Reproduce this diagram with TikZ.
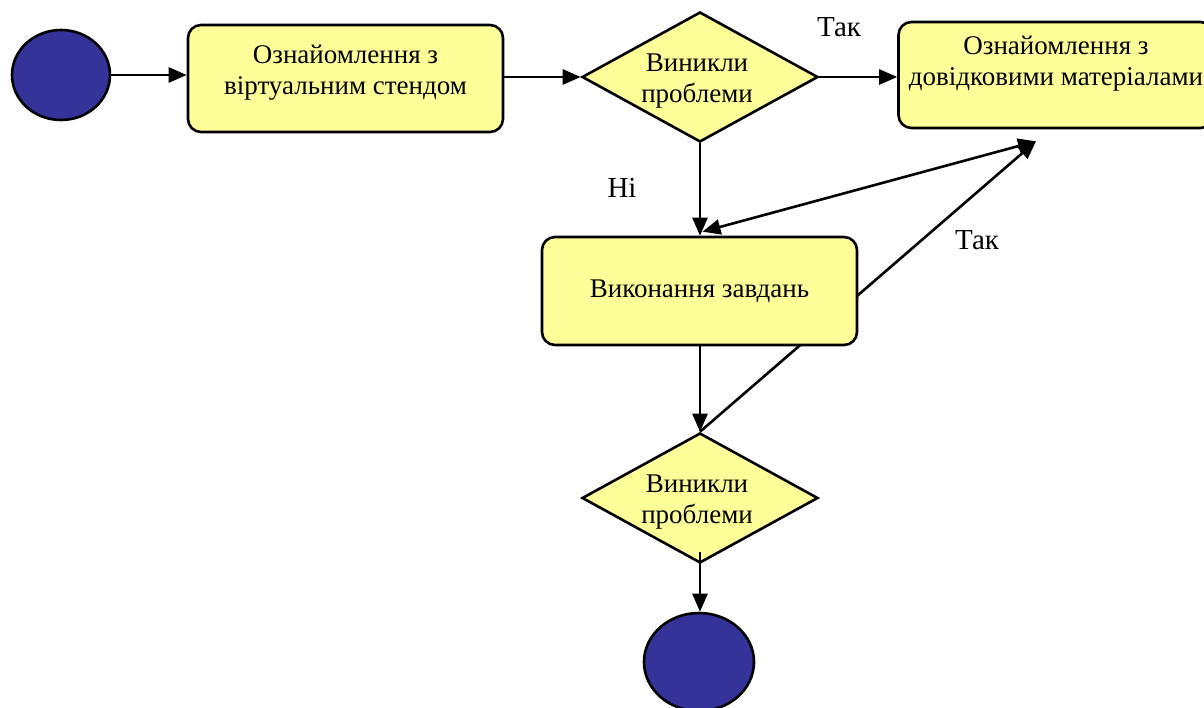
\documentclass[tikz,border=0pt]{standalone}
\usepackage{fontspec}
\setmainfont{Liberation Serif}
\usetikzlibrary{shapes.geometric,arrows.meta,calc,backgrounds}
\definecolor{boxyellow}{HTML}{FFFF99}
\definecolor{termblue}{HTML}{333399}
\begin{document}
\begin{tikzpicture}[x=1pt,y=-1pt,
  every node/.style={font=\fontsize{27}{31}\selectfont},
  proc/.style={draw, line width=2.6pt, fill=boxyellow, rounded corners=13pt, minimum width=315pt, minimum height=107pt, align=center, inner sep=0pt},
  decide/.style={draw, line width=2.6pt, fill=boxyellow, diamond, aspect=1.815, minimum width=236pt, minimum height=130pt, align=center, inner sep=0pt},
  term/.style={draw, line width=2.6pt, fill=termblue, ellipse, inner sep=0pt},
  conn/.style={line width=2.6pt, -{Triangle[length=18pt,width=15pt]}},
  biconn/.style={line width=2.6pt, {Triangle[length=18pt,width=15pt]}-{Triangle[length=18pt,width=15pt]}},
  lbl/.style={font=\fontsize{29}{32}\selectfont, inner sep=0pt},
  intext/.style={align=center, font=\fontsize{27}{31}\selectfont}]
\useasboundingbox (0,0) rectangle (1204,708);
\node[term, minimum width=98pt, minimum height=90pt] (start) at (61,75) {};
\node[proc, label={[intext, yshift=6pt]center:Ознайомлення з\\віртуальним стендом}] (b1) at (345.5,78.5) {};
\node[decide, label={[intext, xshift=-3pt, yshift=-4pt]center:Виникли\\проблеми}] (d1) at (700,77) {};
\node[proc, minimum height=106pt, label={[intext, yshift=11pt]center:Ознайомлення з\\довідковими матеріалами}] (b2) at (1056,75) {};
\coordinate (t2) at ($(b2.south)+(-20,12)$);
\node[decide, label={[intext, xshift=-3pt, yshift=-4pt]center:Виникли\\проблеми}] (d2) at (700,498) {};
\coordinate (d2o) at ($(d2.south)+(0,-12)$);
\begin{pgfonlayer}{background}
\draw[conn] (d2.north) -- (t2);
\end{pgfonlayer}
\node[proc, minimum height=108pt] (b3) at (699.5,291) {Виконання завдань};
\node[term, minimum width=110pt, minimum height=98pt] (end) at (699,662) {};

\draw[conn] (start.east) -- (start.east -| b1.west);
\draw[conn] (b1.east |- d1.west) -- (d1.west);
\draw[conn] (d1.east) -- (d1.east -| b2.west);
\draw[conn] (d1.south) -- (d1.south |- b3.north);
\draw[biconn] ($(b3.north)+(3,-4)$) -- (t2);
\draw[conn] (b3.south -| d2.north) -- (d2.north);
\draw[conn] (d2o) -- (d2o |- end.north);

\node[lbl] (l1) at (839,27) {Так};
\node[lbl] (l2) at (622,188) {Ні};
\node[lbl] (l3) at (977,240) {Так};
\end{tikzpicture}
\end{document}
